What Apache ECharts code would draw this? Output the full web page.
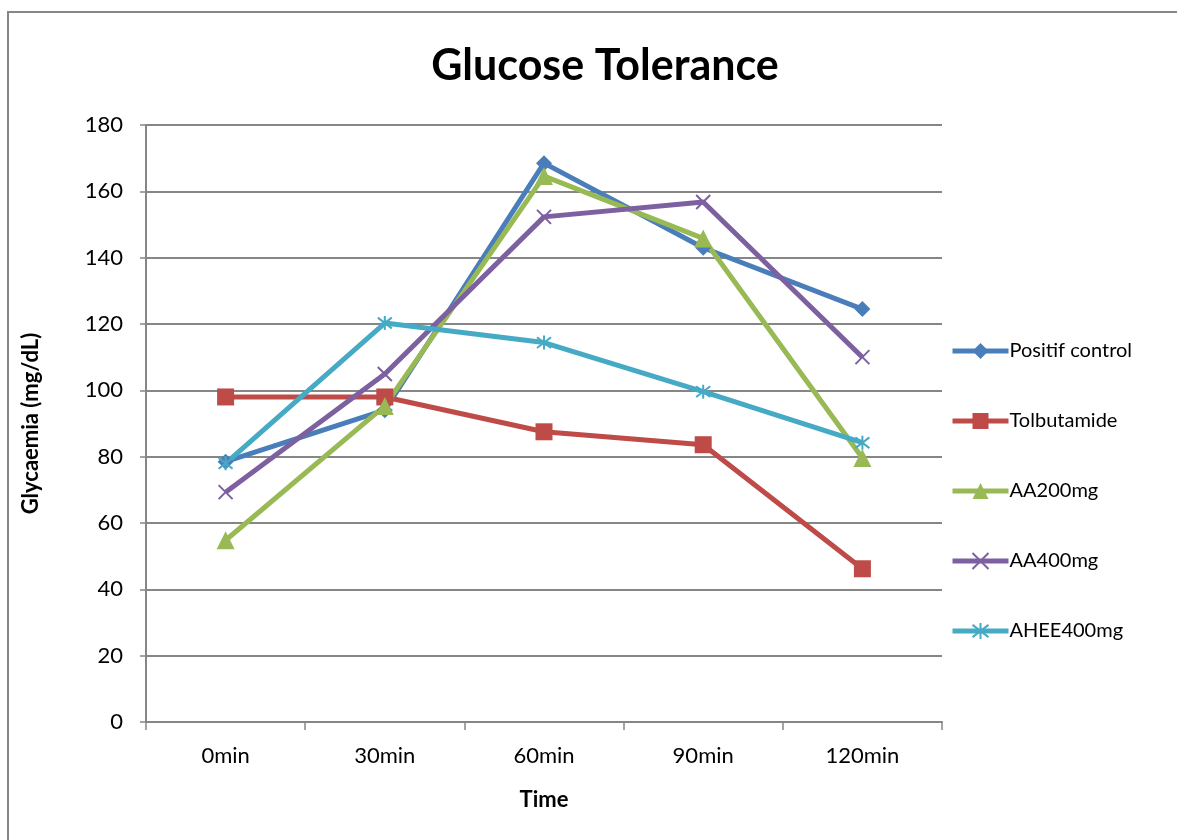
<!DOCTYPE html>
<html>
<head>
<meta charset="utf-8">
<script src="https://cdn.jsdelivr.net/npm/echarts@6/dist/echarts.min.js"></script>
<style>
  html, body { margin: 0; padding: 0; background: #fff; }
  #chart { width: 1177px; height: 840px; }
</style>
</head>
<body>
<div id="chart"></div>
<script>
// Glucose tolerance test: glycaemia over time for each treatment group
const timePoints = ['0min', '30min', '60min', '90min', '120min'];
const positifControl = [78.5, 94, 168.5, 143, 124.5];
const tolbutamide = [98, 98, 87.5, 83.6, 46.2];
const aa200mg = [54.8, 95.3, 164.6, 145.8, 79.6];
const aa400mg = [69.3, 104.9, 152.3, 156.8, 110];
const ahee400mg = [78, 120.3, 114.4, 99.6, 84.2];
const yTicks = [0, 20, 40, 60, 80, 100, 120, 140, 160, 180];

const FONT = 'Lato, "Open Sans", sans-serif';
const crossPath = 'path://M0,0L10,10M10,0L0,10';
const starPath = 'path://M0,0L10,10M10,0L0,10M5,-1.5L5,11.5';

function lineSeries(name, data, color, symbol, size, stroked) {
  return {
    name: name,
    type: 'line',
    data: data,
    symbol: symbol,
    symbolSize: size,
    showAllSymbol: true,
    lineStyle: { color: color, width: 5 },
    itemStyle: stroked
      ? { color: 'rgba(0,0,0,0)', borderColor: color, borderWidth: 2 }
      : { color: color, borderWidth: 0 },
    emphasis: { disabled: true },
    z: 3
  };
}

const chart = echarts.init(document.getElementById('chart'), null, { renderer: 'canvas' });
chart.setOption({
  animation: false,
  backgroundColor: '#ffffff',
  title: {
    text: 'Glucose Tolerance',
    left: 600,
    top: 40,
    textAlign: 'center',
    textStyle: { fontFamily: FONT, fontSize: 43, fontWeight: 'bold', color: '#000' }
  },
  graphic: [{
    type: 'rect',
    shape: { x: 8, y: 12, width: 1200, height: 900 },
    style: { fill: 'none', stroke: '#868686', lineWidth: 2 },
    silent: true,
    z: -1
  }],
  grid: { left: 146, right: 235, top: 125, bottom: 118, containLabel: false },
  legend: {
    orient: 'vertical',
    left: 945,
    top: 336,
    itemGap: 50,
    itemWidth: 56,
    itemHeight: 20,
    lineStyle: { width: 5 },
    textStyle: { fontFamily: FONT, fontSize: 20, color: '#000', padding: [0, 0, 0, -4] },
    data: ['Positif control', 'Tolbutamide', 'AA200mg', 'AA400mg', 'AHEE400mg']
  },
  xAxis: {
    type: 'category',
    data: timePoints,
    boundaryGap: true,
    name: 'Time',
    nameLocation: 'middle',
    nameGap: 67,
    nameTextStyle: { fontFamily: FONT, fontSize: 22, fontWeight: 'bold', color: '#000' },
    axisLine: { lineStyle: { color: '#868686', width: 2 } },
    axisTick: { show: true, length: 8, lineStyle: { color: '#868686', width: 1.5 } },
    axisLabel: { fontFamily: FONT, fontSize: 22, color: '#000', margin: 23 },
    splitLine: { show: false }
  },
  yAxis: {
    type: 'value',
    min: 0,
    max: 180,
    interval: 20,
    name: 'Glycaemia (mg/dL)',
    nameLocation: 'middle',
    nameGap: 104,
    nameRotate: 90,
    nameTextStyle: { fontFamily: FONT, fontSize: 22, fontWeight: 'bold', color: '#000' },
    axisLine: { show: true, lineStyle: { color: '#868686', width: 2 } },
    axisTick: { show: true, length: 6, lineStyle: { color: '#868686', width: 1.5 } },
    axisLabel: {
      fontFamily: FONT, fontSize: 22, color: '#000', margin: 23,
      formatter: function (v) { return yTicks.indexOf(v) >= 0 ? String(v) : ''; }
    },
    splitLine: { show: true, lineStyle: { color: '#868686', width: 2 } }
  },
  series: [
    lineSeries('Positif control', positifControl, '#4A7EBB', 'diamond', 16, false),
    lineSeries('Tolbutamide', tolbutamide, '#BE4B48', 'rect', 17, false),
    lineSeries('AA200mg', aa200mg, '#98B954', 'triangle', 18, false),
    lineSeries('AA400mg', aa400mg, '#7D60A0', crossPath, 14, true),
    lineSeries('AHEE400mg', ahee400mg, '#46AAC5', starPath, 14, true)
  ]
});
</script>
</body>
</html>
